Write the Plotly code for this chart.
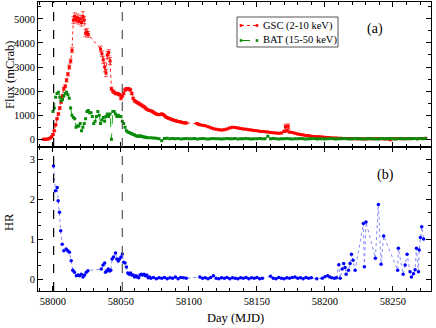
import plotly.graph_objects as go

# GSC (2-10 keV) light curve
gsc_day = [57993, 57994, 57995, 57996, 57997, 57998, 57999, 58000, 58001, 58002,
           58003, 58004, 58005, 58006, 58007, 58008, 58009, 58010, 58011, 58012,
           58013, 58014, 58015, 58016, 58017, 58018, 58019, 58020, 58021, 58022,
           58023, 58024, 58025, 58026, 58035, 58036, 58037, 58038, 58039, 58040,
           58041, 58042, 58043, 58044, 58045, 58046, 58047, 58048, 58049, 58050,
           58051, 58052, 58053, 58054, 58055, 58056, 58057, 58058, 58059, 58060,
           58061, 58062, 58063, 58064, 58065, 58066, 58067, 58068, 58069, 58070,
           58071, 58072, 58073, 58074, 58075, 58076, 58077, 58078, 58079, 58080,
           58081, 58082, 58083, 58084, 58085, 58086, 58087, 58088, 58089, 58090,
           58091, 58092, 58093, 58094, 58095, 58096, 58097, 58098, 58106, 58107,
           58108, 58110, 58112, 58114, 58116, 58118, 58120, 58122, 58124, 58126,
           58128, 58130, 58132, 58134, 58136, 58138, 58140, 58142, 58144, 58146,
           58148, 58150, 58152, 58154, 58156, 58158, 58160, 58162, 58164, 58166,
           58168, 58170, 58171, 58172, 58173, 58174, 58176, 58178, 58180, 58182,
           58184, 58186, 58188, 58190, 58192, 58194, 58196, 58198, 58200, 58202,
           58204, 58206, 58208, 58210, 58212, 58214, 58216, 58218, 58220, 58222,
           58224, 58226, 58228, 58230, 58232, 58234, 58236, 58238, 58240, 58242,
           58244, 58246, 58248, 58250, 58252, 58254, 58256, 58258, 58260, 58262,
           58264, 58266, 58268, 58270, 58272, 58274]
gsc_flux = [0, 0, 5, 10, 20, 50, 100, 200, 350, 600,
            850, 1050, 1300, 1550, 1800, 2100, 2200, 2450, 2700, 3000,
            3250, 3700, 4950, 5100, 4950, 5050, 4900, 5000, 4850, 5100,
            4950, 4400, 4450, 4350, 3750, 3550, 3300, 3000, 2750, 3500,
            3600, 3250, 2100, 2000, 1950, 1900, 1900, 1880, 1850, 1700,
            1800, 1900, 2050, 2100, 2100, 2080, 2050, 1900, 1700, 1600,
            1560, 1520, 1500, 1450, 1420, 1380, 1350, 1300, 1250, 1220,
            1200, 1180, 1150, 1120, 1080, 1050, 1030, 1020, 1040, 1050,
            1030, 980, 930, 900, 870, 850, 830, 810, 790, 770,
            760, 740, 730, 720, 700, 690, 680, 680, 650, 620,
            600, 580, 560, 520, 480, 440, 420, 400, 380, 400,
            430, 470, 500, 490, 470, 450, 430, 420, 400, 380,
            360, 350, 330, 320, 310, 300, 280, 270, 260, 250,
            260, 320, 520, 350, 540, 300, 280, 250, 220, 200,
            180, 160, 150, 130, 120, 110, 100, 90, 80, 70,
            60, 55, 50, 45, 40, 35, 30, 30, 25, 25,
            20, 25, 20, 15, 20, 25, 20, 30, 20, 25,
            15, 20, -20, 25, 20, 30, 25, 20, 30, 25,
            35, 30, 25, 35, 30, 40]
gsc_err = [20, 20, 20, 20, 20, 20, 20, 30, 30, 40,
           40, 50, 50, 50, 60, 60, 60, 70, 70, 80,
           80, 100, 150, 150, 120, 150, 120, 150, 150, 200,
           150, 150, 150, 120, 120, 120, 150, 200, 150, 150,
           120, 150, 60, 50, 50, 50, 50, 50, 50, 60,
           50, 50, 50, 50, 50, 50, 50, 50, 40, 40,
           40, 40, 40, 40, 40, 40, 40, 40, 40, 30,
           30, 30, 30, 30, 30, 30, 30, 30, 30, 30,
           30, 30, 30, 30, 30, 30, 30, 30, 30, 30,
           30, 30, 30, 30, 30, 30, 30, 30, 30, 30,
           30, 30, 30, 30, 30, 30, 30, 30, 30, 30,
           30, 30, 30, 30, 30, 30, 30, 30, 30, 30,
           30, 30, 30, 30, 30, 30, 30, 30, 30, 30,
           30, 40, 100, 60, 100, 40, 30, 30, 30, 30,
           30, 30, 30, 30, 30, 30, 30, 30, 30, 30,
           30, 30, 30, 30, 30, 30, 30, 30, 30, 30,
           30, 30, 30, 30, 30, 30, 30, 30, 30, 30,
           30, 30, 30, 30, 30, 30, 30, 30, 30, 30,
           30, 30, 30, 30, 30, 30]

# BAT (15-50 keV) light curve
bat_day = [58000, 58001, 58002, 58003, 58004, 58005, 58006, 58007, 58008, 58009,
           58010, 58011, 58012, 58013, 58014, 58015, 58016, 58017, 58018, 58019,
           58020, 58021, 58022, 58023, 58024, 58025, 58026, 58027, 58028, 58029,
           58030, 58031, 58032, 58033, 58034, 58035, 58036, 58037, 58038, 58039,
           58040, 58041, 58042, 58043, 58044, 58045, 58046, 58047, 58048, 58049,
           58050, 58051, 58052, 58053, 58054, 58055, 58056, 58057, 58058, 58059,
           58060, 58061, 58062, 58063, 58064, 58065, 58066, 58067, 58068, 58069,
           58070, 58072, 58074, 58076, 58078, 58080, 58082, 58084, 58086, 58088,
           58090, 58092, 58094, 58096, 58098, 58100, 58102, 58104, 58106, 58108,
           58110, 58112, 58114, 58116, 58118, 58120, 58122, 58124, 58126, 58128,
           58130, 58132, 58134, 58136, 58138, 58140, 58142, 58144, 58146, 58148,
           58150, 58152, 58154, 58156, 58158, 58160, 58162, 58164, 58166, 58168,
           58170, 58172, 58174, 58176, 58178, 58180, 58182, 58184, 58186, 58188,
           58190, 58192, 58194, 58196, 58198, 58200, 58202, 58204, 58206, 58208,
           58210, 58212, 58214, 58216, 58218, 58220, 58222, 58224, 58226, 58228,
           58230, 58232, 58234, 58236, 58238, 58240, 58242, 58244, 58246, 58248,
           58250, 58252, 58254, 58256, 58258, 58260, 58262, 58264, 58266, 58268,
           58270, 58272, 58274]
bat_flux = [1150, 1300, 1750, 1900, 1950, 1750, 1600, 1650, 1800, 1900,
            1950, 1850, 1700, 1300, 1000, 900, 850, 500, 550, 550,
            650, 350, 500, 650, 850, 1150, 1200, 1100, 1100, 950,
            650, 750, 950, 1150, 1000, 650, 800, 900, 750, 950,
            1050, 950, 1050, 0, 1150, 1150, 1050, 950, 1000, 950,
            950, 750, 650, 500, 350, 300, 280, 250, 230, 200,
            180, 150, 140, 120, 150, 130, 100, 90, 80, 70,
            60, 60, 50, 40, 20, -60, 30, 40, 20, 30,
            20, 30, 10, 20, 30, 20, 20, 30, 10, 20,
            30, 20, 10, 20, 30, 20, 20, 10, 20, 30,
            20, 20, 30, 10, 20, 20, 30, 20, 10, 20,
            20, 30, 20, 20, 130, 20, 30, 20, 10, 20,
            20, 30, 20, 10, 20, 20, 30, 20, 10, 20,
            20, 30, 10, 20, 20, 10, 20, 30, 20, 10,
            20, 20, 30, 20, 10, 20, 30, 20, 20, 10,
            20, 30, 20, 20, 10, 20, 30, 20, 20, 30,
            20, 10, 20, 30, 20, 20, 30, 20, 30, 20,
            30, 20, 30]

# Hardness ratio (BAT/GSC)
hr_day = [58000.4, 58001.8, 58003.1, 58003.8, 58004.8, 58005.7, 58006.8, 58008, 58009.7, 58010.9,
          58012.1, 58013.4, 58014.6, 58015.8, 58017.2, 58018.4, 58019.6, 58020.8, 58022.1, 58023.3,
          58024.5, 58025.7, 58035.5, 58036.8, 58038, 58038.7, 58039.7, 58040.7, 58041.7, 58042.5,
          58043.5, 58044.5, 58046, 58047, 58048, 58049, 58050, 58051, 58052, 58053,
          58054, 58055, 58056, 58057, 58058, 58059, 58060, 58061, 58062, 58063,
          58064, 58065, 58066, 58067, 58068, 58069, 58070, 58071, 58072, 58074,
          58076, 58078, 58080, 58082, 58084, 58086, 58088, 58090, 58092, 58094,
          58096, 58098, 58108, 58110, 58112, 58114, 58116, 58118, 58120, 58122,
          58124, 58126, 58128, 58130, 58132, 58134, 58136, 58138, 58140, 58142,
          58144, 58146, 58148, 58150, 58152, 58154, 58160, 58162, 58164, 58166,
          58168, 58170, 58172, 58174, 58176, 58178, 58180, 58182, 58184, 58186,
          58188, 58190, 58194, 58198, 58200, 58202, 58203.5, 58205, 58207, 58208.5,
          58210.2, 58211.2, 58212.7, 58213.8, 58214.8, 58215.6, 58217.3, 58218.5, 58219.5, 58220.7,
          58222.2, 58228.3, 58229, 58230.2, 58237.1, 58239.3, 58241.3, 58243.2, 58253.5, 58254,
          58257.5, 58259, 58260.4, 58262.6, 58263.6, 58265.1, 58266.3, 58267.3, 58268.8, 58269.3,
          58270.2, 58271.2, 58272.6]
hr_val = [2.83, 2.21, 2.29, 1.96, 1.67, 1.21, 0.87, 0.71, 0.75, 0.71,
          0.67, 0.46, 0.22, 0.17, 0.08, 0.10, 0.08, 0.12, 0.05, 0.10,
          0.17, 0.21, 0.25, 0.35, 0.40, 0.17, 0.21, 0.25, 0.20, 0.22,
          0.50, 0.55, 0.65, 0.50, 0.45, 0.50, 0.55, 0.63, 0.42, 0.40,
          0.30, 0.15, 0.12, 0.15, 0.10, 0.10, 0.05, 0.08, 0.05, 0.03,
          0.10, 0.12, 0.10, 0.12, 0.08, 0.10, 0.03, 0.05, 0.02, 0.04,
          0.01, 0.03, 0.02, 0.04, 0.01, 0.03, 0.02, 0.05, 0.01, 0.04,
          0.03, 0.02, 0.05, 0.02, 0.03, 0.01, 0.04, 0.08, 0.02, 0.01,
          0.03, 0.02, 0.04, 0.01, 0.03, 0.02, 0.01, 0.03, 0.02, 0.04,
          0.01, 0.03, 0.02, 0.04, 0.01, 0.02, 0.07, 0.02, 0.01, 0.04,
          0.02, 0.01, 0.03, 0.02, 0.04, 0.05, 0.02, 0.03, 0.01, 0.04,
          0.02, 0.03, 0.01, 0.02, 0.06, 0.08, 0.05, 0.03, 0.02, 0.03,
          0.36, 0.02, 0.25, 0.39, 0.29, 0.12, 0.22, 0.39, 0.62, 0.47,
          0.22, 1.39, 0.31, 1.43, 0.52, 1.87, 0.37, 1.08, 0.22, 0.77,
          0.12, 0.35, 0.62, 0.18, 0.05, 0.13, 0.23, 0.77, 0.18, 0.73,
          1.04, 1.31, 1.00]

outburst_lines = [58000.5, 58051]
legend_names = ["GSC (2-10 keV)", "BAT (15-50 keV)"]

serif = "Liberation Serif"
red, green, blue = "#ff0000", "#0a8a0a", "#0000ff"
fig = go.Figure()

fig.add_trace(go.Scatter(
    x=gsc_day, y=gsc_flux, mode="lines+markers", name=legend_names[0],
    error_y=dict(type="data", array=gsc_err, color="#ff3030", thickness=0.8, width=2),
    line=dict(color="#ff2020", width=1, dash="dot"),
    marker=dict(color=red, size=3, symbol="square"),
    xaxis="x", yaxis="y"))
fig.add_trace(go.Scatter(
    x=bat_day, y=bat_flux, mode="lines+markers", name=legend_names[1],
    line=dict(color="#22aa22", width=1, dash="dash"),
    marker=dict(color=green, size=3, symbol="square"),
    xaxis="x", yaxis="y"))
fig.add_trace(go.Scatter(
    x=hr_day, y=hr_val, mode="lines+markers",
    line=dict(color="#8888ff", width=1, dash="dot"),
    marker=dict(color=blue, size=3.5),
    xaxis="x2", yaxis="y2"))

for i, d in enumerate(outburst_lines):
    fig.add_shape(type="line", x0=d, x1=d, y0=0, y1=1, xref="x2", yref="paper",
                  line=dict(color="black" if i == 0 else "#555555", width=1.2, dash="dash"))


# pixel -> paper helpers (plot area: x 38..431, y 2..291)
def px(x):
    return (x - 38) / 393


def py(y):
    return 1 - (y - 2) / 289


# hand-made legend box, like the original figure
fig.add_shape(type="rect", xref="paper", yref="paper",
              x0=px(237), x1=px(338), y0=py(17), y1=py(47),
              line=dict(color="#555555", width=1), fillcolor="white")
for row_y, name, col, dash in [(25.5, legend_names[0], red, "dot"),
                               (40.5, legend_names[1], green, "dash")]:
    fig.add_shape(type="line", xref="paper", yref="paper",
                  x0=px(241), x1=px(257), y0=py(row_y), y1=py(row_y),
                  line=dict(color=col, width=1, dash=dash))
    for mx in (241, 257):
        fig.add_shape(type="rect", xref="paper", yref="paper",
                      x0=px(mx - 1.3), x1=px(mx + 1.3), y0=py(row_y + 1.3), y1=py(row_y - 1.3),
                      line=dict(width=0), fillcolor=col)
    fig.add_annotation(x=px(261), y=py(row_y), xref="paper", yref="paper", text=name,
                       xanchor="left", yanchor="middle", showarrow=False,
                       font=dict(family=serif, size=10.5))

axis_common = dict(showline=True, linecolor="black", linewidth=1, mirror="ticks",
                   ticks="inside", ticklen=5, tickcolor="black", showgrid=False,
                   zeroline=False, automargin=False,
                   tickfont=dict(family=serif, size=10.5, color="black"))

fig.update_layout(
    width=436, height=328,
    margin=dict(l=38, r=5, t=2, b=37),
    paper_bgcolor="white", plot_bgcolor="white",
    font=dict(family=serif, color="black"),
    showlegend=False,
    xaxis=dict(domain=[0, 1], anchor="y", range=[57989, 58278], matches="x2",
               showticklabels=False, dtick=50,
               minor=dict(dtick=10, ticks="inside", ticklen=3, tickcolor="black"),
               **axis_common),
    yaxis=dict(domain=[0.5, 1], anchor="x", range=[-300, 5700], dtick=1000,
               minor=dict(dtick=500, ticks="inside", ticklen=3, tickcolor="black"),
               **axis_common),
    xaxis2=dict(domain=[0, 1], anchor="y2", range=[57989, 58278], dtick=50,
                tickformat="d",
                minor=dict(dtick=10, ticks="inside", ticklen=3, tickcolor="black"),
                **axis_common),
    yaxis2=dict(domain=[0, 0.5], anchor="x2", range=[-0.3, 3.32], dtick=1,
                minor=dict(dtick=1 / 3, ticks="inside", ticklen=3, tickcolor="black"),
                **axis_common),
)

# axis titles and panel labels
labels = [(236, 318, "Day (MJD)", 0, 12.5),
          (10, 75, "Flux (mCrab)", -90, 12.5),
          (9, 222, "HR", -90, 12.5),
          (375, 29, "(a)", 0, 14),
          (385, 175, "(b)", 0, 14)]
for lx, ly, text, angle, size in labels:
    fig.add_annotation(x=px(lx), y=py(ly), xref="paper", yref="paper", text=text,
                       textangle=angle, xanchor="center", yanchor="middle",
                       showarrow=False, font=dict(family=serif, size=size))

fig.write_html("out.html", config={"displayModeBar": False},
               post_script="document.body.style.margin='0';")
